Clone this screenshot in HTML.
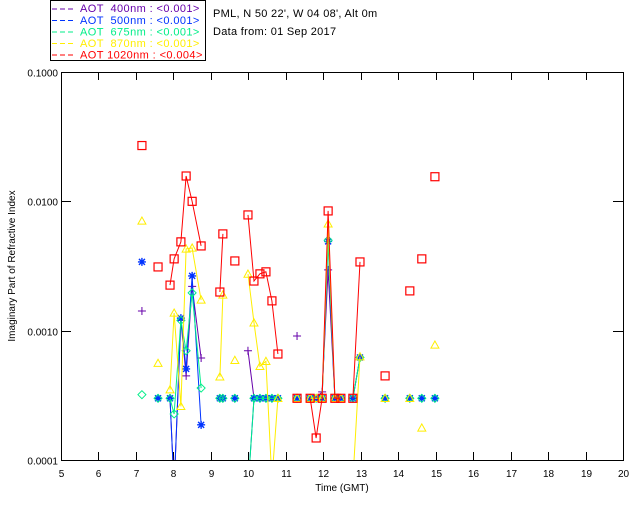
<!DOCTYPE html>
<html><head><meta charset="utf-8"><style>
body{margin:0;background:#fff;}
svg{display:block;font-family:"Liberation Sans","DejaVu Sans",sans-serif;}
</style></head><body>
<svg id="chart" width="640" height="512" viewBox="0 0 640 512" xmlns="http://www.w3.org/2000/svg">
<rect x="0" y="0" width="640" height="512" fill="#fff"/>
<g font-size="11" letter-spacing="0.4">
<rect x="50.5" y="0.5" width="155" height="60" fill="none" stroke="#000"/>
<g><line x1="52" y1="9" x2="74" y2="9" stroke="#6600aa" stroke-dasharray="5,3"/><text x="80" y="12" fill="#6600aa" xml:space="preserve">AOT  400nm : &lt;0.001&gt;</text></g>
<g><line x1="52" y1="20.5" x2="74" y2="20.5" stroke="#0033ff" stroke-dasharray="5,3"/><text x="80" y="24" fill="#0033ff" xml:space="preserve">AOT  500nm : &lt;0.001&gt;</text></g>
<g><line x1="52" y1="32" x2="74" y2="32" stroke="#00ee88" stroke-dasharray="5,3"/><text x="80" y="35.5" fill="#00ee88" xml:space="preserve">AOT  675nm : &lt;0.001&gt;</text></g>
<g><line x1="52" y1="43.5" x2="74" y2="43.5" stroke="#ffee00" stroke-dasharray="5,3"/><text x="80" y="47" fill="#ffee00" xml:space="preserve">AOT  870nm : &lt;0.001&gt;</text></g>
<g><line x1="52" y1="55" x2="74" y2="55" stroke="#ff0000" stroke-dasharray="5,3"/><text x="80" y="58.5" fill="#ff0000" xml:space="preserve">AOT 1020nm : &lt;0.004&gt;</text></g>
</g>
<text x="213" y="17" font-size="11" letter-spacing="0.3">PML, N 50 22', W 04 08', Alt 0m</text>
<text x="213" y="35" font-size="11" letter-spacing="0.3">Data from: 01 Sep 2017</text>
<g id="axes"></g>
<g id="series"></g>
<text x="342" y="491" font-size="10" text-anchor="middle">Time (GMT)</text>
<text transform="translate(15,266) rotate(-90)" font-size="10" text-anchor="middle">Imaginary Part of Refractive Index</text>
</svg>
<script>
const times = [7.16,7.59,7.91,8.02,8.20,8.34,8.50,8.74,9.24,9.32,9.64,9.99,10.15,10.31,10.47,10.63,10.79,11.30,11.65,11.81,11.97,12.13,12.31,12.47,12.79,12.98,13.65,14.31,14.63,14.98];
const aot400 = [0.00142,0.0003,0.0003,0.00006,0.0012,0.000447,0.0022,0.000615,0.0003,0.0003,0.0003,0.0007,0.0003,0.0003,0.0003,0.0003,0.0003,0.00091,0.0003,0.0003,0.000336,0.00295,0.0003,0.0003,0.0003,0.00062,0.0003,0.0003,0.0003,0.0003];
const aot500 = [0.0034,0.0003,0.0003,0.00006,0.00125,0.000506,0.00265,0.000187,0.0003,0.0003,0.0003,0.00006,0.0003,0.0003,0.0003,0.0003,0.0003,0.0003,0.0003,0.0003,0.0003,0.0049,0.0003,0.0003,0.0003,0.00062,0.0003,0.0003,0.0003,0.0003];
const aot675 = [0.00032,0.0003,0.0003,0.000227,0.0012,0.0007,0.00196,0.00036,0.0003,0.0003,0.0003,0.00006,0.0003,0.0003,0.0003,0.0003,0.0003,0.0003,0.0003,0.0003,0.0003,0.005,0.0003,0.0003,0.0003,0.00062,0.0003,0.0003,0.0003,0.0003];
const aot870 = [0.00705,0.00056,0.00035,0.00137,0.00026,0.00429,0.00436,0.00173,0.00044,0.00189,0.00059,0.00274,0.00115,0.00053,0.00058,0.00007,0.0003,0.0003,0.0003,0.0003,0.0003,0.0067,0.0003,0.0003,0.00007,0.00063,0.0003,0.0003,0.000177,0.000775];
const aot1020 = [0.027,0.00311,0.00225,0.00359,0.00486,0.0157,0.0100,0.00452,0.00199,0.0056,0.00346,0.00785,0.00242,0.00275,0.00285,0.00170,0.00066,0.0003,0.0003,0.000148,0.0003,0.00843,0.0003,0.0003,0.0003,0.0034,0.000447,0.00203,0.00359,0.0155];
const xTicks = [5,6,7,8,9,10,11,12,13,14,15,16,17,18,19,20];
const yTicks = [0.0001,0.001,0.01,0.1];
const yTickLabels = ["0.0001","0.0010","0.0100","0.1000"];

const NS="http://www.w3.org/2000/svg";
const L=61,R=623,T=72,B=460;
const xMin=5,xMax=20,yMinE=-4,yMaxE=-1;
function xs(v){return L+(v-xMin)/(xMax-xMin)*(R-L);}
function ys(v){return B-(Math.log10(v)-yMinE)/(yMaxE-yMinE)*(B-T);}
function mk(tag,attrs,parent){const e=document.createElementNS(NS,tag);for(const k in attrs)e.setAttribute(k,attrs[k]);parent.appendChild(e);return e;}

const axes=document.getElementById('axes');
const frame=mk('rect',{x:L+0.5,y:T+0.5,width:R-L,height:B-T,fill:'none',stroke:'#000'},axes);


xTicks.forEach(t=>{
  const x=Math.round(xs(t))+0.5;
  const g=mk('g',{},axes);
  
  
  mk('line',{x1:x,y1:B,x2:x,y2:B-8,stroke:'#000'},g);
  mk('line',{x1:x,y1:T,x2:x,y2:T+8,stroke:'#000'},g);
  const tx=mk('text',{x:x,y:B+17,'font-size':'10','text-anchor':'middle'},g);
  tx.textContent=t;
});
yTicks.forEach((t,i)=>{
  const y=Math.round(ys(t))+0.5;
  const g=mk('g',{},axes);
  
  
  mk('line',{x1:L,y1:y,x2:L+10,y2:y,stroke:'#000'},g);
  mk('line',{x1:R,y1:y,x2:R-10,y2:y,stroke:'#000'},g);
  const tx=mk('text',{x:L-3,y:y+4,'font-size':'10','text-anchor':'end'},g);
  tx.textContent=yTickLabels[i];
});

const series=document.getElementById('series');
mk('clipPath',{id:'clip'},series).appendChild(document.createElementNS(NS,'rect'));
const cr=series.querySelector('#clip rect');cr.setAttribute('x',L);cr.setAttribute('y',T);cr.setAttribute('width',R-L);cr.setAttribute('height',B-T);

function marker(g,type,x,y,c){
  const s=4;
  if(type==='square') mk('rect',{x:x-s,y:y-s,width:2*s,height:2*s,fill:'none',stroke:c,'stroke-width':1.2},g);
  else if(type==='tri') mk('polygon',{points:`${x},${y-s} ${x-s},${y+s*0.8} ${x+s},${y+s*0.8}`,fill:'none',stroke:c,'stroke-width':1},g);
  else if(type==='diamond') mk('polygon',{points:`${x},${y-s} ${x+s},${y} ${x},${y+s} ${x-s},${y}`,fill:'none',stroke:c,'stroke-width':1},g);
  else if(type==='plus') mk('path',{d:`M${x-s} ${y}H${x+s}M${x} ${y-s}V${y+s}`,stroke:c,'stroke-width':1},g);
  else mk('path',{d:`M${x-s} ${y}H${x+s}M${x} ${y-s}V${y+s}M${x-3} ${y-3}L${x+3} ${y+3}M${x-3} ${y+3}L${x+3} ${y-3}`,stroke:c,'stroke-width':1.4},g);
}
const defs=[['aot-400-series',aot400,'#6600aa','plus'],['aot-500-series',aot500,'#0033ff','star'],['aot-675-series',aot675,'#00ee88','diamond'],['aot-870-series',aot870,'#ffee00','tri'],['aot-1020-series',aot1020,'#ff0000','square']];
defs.forEach(([name,vals,c,type])=>{
  const g=mk('g',{'clip-path':'url(#clip)'},series);
  
  
  let d='';
  for(let i=0;i<times.length;i++){
    const x=xs(times[i]),y=ys(vals[i]);
    if(i>0&&times[i]-times[i-1]<0.26) d+=`L${x.toFixed(1)} ${y.toFixed(1)}`; else d+=`M${x.toFixed(1)} ${y.toFixed(1)}`;
  }
  mk('path',{d:d,fill:'none',stroke:c,'stroke-width':1},g);
  for(let i=0;i<times.length;i++){
    if(vals[i]<0.0001) continue;
    marker(g,type,xs(times[i]),ys(vals[i]),c);
  }
});
</script>
</body></html>
